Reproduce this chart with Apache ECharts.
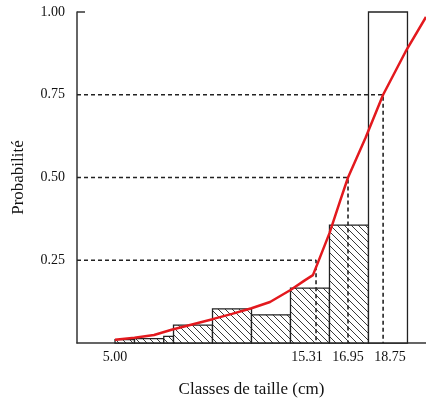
<!DOCTYPE html>
<html>
<head>
<meta charset="utf-8">
<script src="https://cdn.jsdelivr.net/npm/echarts@6/dist/echarts.min.js"></script>
<style>html,body{margin:0;padding:0;background:#fff}#c{width:426px;height:401px}</style>
</head>
<body>
<div id="c"></div>
<script>
// ---- data ----
const binStart = [5, 6, 7.5, 8, 10, 12, 14, 16, 18];
const binEnd   = [6, 7.5, 8, 10, 12, 14, 16, 18, 20];
const binProb  = [0.01, 0.013, 0.02, 0.054, 0.103, 0.085, 0.166, 0.356, 1.0];
const binHatched = [true, true, true, true, true, true, true, true, false];

const curveX = [5, 6.0, 7.0, 7.9, 8.95, 10.0, 11.0, 12.0, 12.95, 14.0, 14.75, 15.15, 15.36, 16.0, 16.55, 16.95, 17.85, 18.75, 19.9, 20.95];
const curveY = [0.01, 0.016, 0.024, 0.04, 0.056, 0.072, 0.088, 0.105, 0.124, 0.16, 0.19, 0.205, 0.236, 0.332, 0.43, 0.50, 0.62, 0.75, 0.88, 0.985];

const guideX = [15.31, 16.95, 18.75];
const guideY = [0.25, 0.50, 0.75];

const xTickValues = [5, 15.31, 16.95, 18.75];
const xTickShift  = ['c', 'l', 'c', 'r'];
const xMin = 3.05, xMax = 20.95;

// ---- hatch pattern ----
const s = 7;
const pc = document.createElement('canvas');
pc.width = s; pc.height = s;
const g = pc.getContext('2d');
g.fillStyle = '#fff'; g.fillRect(0, 0, s, s);
g.strokeStyle = '#3a3a3a'; g.lineWidth = 1;
g.beginPath();
g.moveTo(-1, -1); g.lineTo(s + 1, s + 1);
g.moveTo(-1, s - 1); g.lineTo(1, s + 1);
g.moveTo(s - 1, -1); g.lineTo(s + 1, 1);
g.stroke();
const hatch = { image: pc, repeat: 'repeat' };

const bins = binStart.map((b, i) => [b, binEnd[i], binProb[i], binHatched[i] ? 1 : 0]);
const curve = curveX.map((x, i) => [x, curveY[i]]);
const guideSeries = guideX.map((gx, i) => ({
  type: 'line', silent: true, symbol: 'none', z: 3,
  data: [[xMin, guideY[i]], [gx, guideY[i]], [gx, 0]],
  lineStyle: { color: '#222', width: 1.6, type: [4, 3] }
}));

const font = 'Liberation Serif';
const lbl = { fontFamily: font, fontSize: 14, color: '#111' };
const chart = echarts.init(document.getElementById('c'));
chart.setOption({
  animation: false,
  grid: { left: 77, right: 0, top: 12, bottom: 58, containLabel: false, outerBoundsMode: 'none' },
  xAxis: {
    type: 'value', min: xMin, max: xMax,
    name: 'Classes de taille (cm)', nameLocation: 'middle', nameGap: 38,
    nameTextStyle: { fontFamily: font, fontSize: 17, color: '#111' },
    axisLine: { show: true, lineStyle: { color: '#333', width: 1.5 } },
    axisTick: { show: false },
    splitLine: { show: false },
    axisLabel: Object.assign({
      customValues: xTickValues, margin: 7,
      formatter: v => {
        const i = xTickValues.indexOf(v);
        return '{' + (i >= 0 ? xTickShift[i] : 'c') + '|' + v.toFixed(2) + '}';
      },
      rich: {
        c: Object.assign({}, lbl),
        l: Object.assign({ padding: [0, 18, 0, 0] }, lbl),
        r: Object.assign({ padding: [0, 0, 0, 14] }, lbl)
      }
    }, lbl)
  },
  yAxis: {
    type: 'value', min: 0, max: 1, interval: 0.25,
    name: 'Probabilité', nameLocation: 'middle', nameGap: 50,
    nameTextStyle: { fontFamily: font, fontSize: 17, color: '#111' },
    axisLine: { show: true, lineStyle: { color: '#333', width: 1.5 } },
    axisTick: { show: true, customValues: [1], inside: true, length: 8, lineStyle: { color: '#333', width: 1.5 } },
    splitLine: { show: false },
    axisLabel: Object.assign({
      margin: 12,
      formatter: v => v === 0 ? '' : v.toFixed(2)
    }, lbl)
  },
  series: [
    {
      type: 'custom', z: 2, silent: true,
      data: bins,
      renderItem: function (params, api) {
        const p0 = api.coord([api.value(0), api.value(2)]);
        const p1 = api.coord([api.value(1), 0]);
        return {
          type: 'rect',
          shape: { x: p0[0], y: p0[1], width: p1[0] - p0[0], height: p1[1] - p0[1] },
          style: { fill: api.value(3) ? hatch : '#fff', stroke: '#222', lineWidth: 1.3 }
        };
      }
    },
    ...guideSeries,
    {
      type: 'line', z: 5, silent: true, symbol: 'none',
      data: curve,
      lineStyle: { color: '#e3191e', width: 2.5 }
    }
  ]
});
</script>
</body>
</html>
